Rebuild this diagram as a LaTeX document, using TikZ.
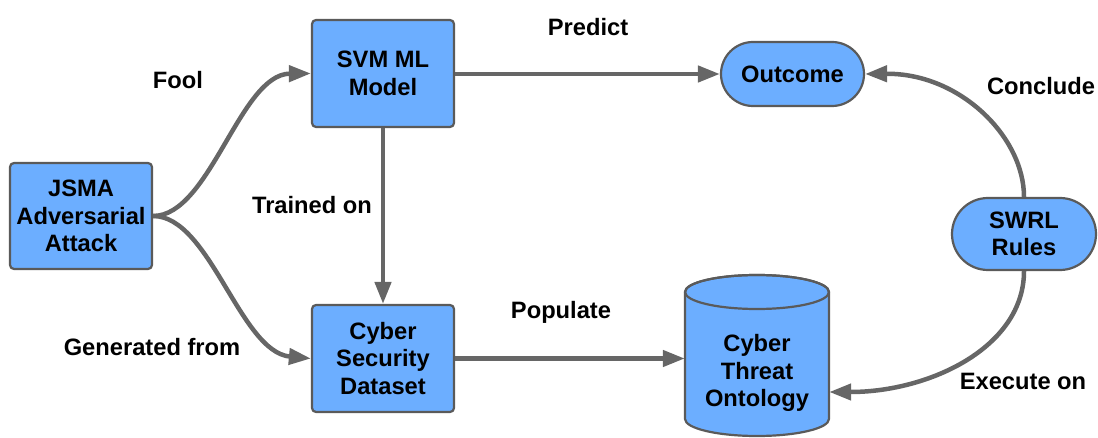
\documentclass[tikz,border=0pt]{standalone}
\usepackage{fontspec}
\setmainfont{Liberation Sans}
\usetikzlibrary{arrows.meta,calc}
\definecolor{boxfill}{RGB}{108,174,255}
\definecolor{boxline}{RGB}{90,90,90}
\definecolor{linkcol}{RGB}{102,102,102}
\tikzset{
  every node/.style={font=\fontsize{23.7}{27.5}\selectfont\bfseries, align=center, text=black},
  block/.style={draw=boxline, fill=boxfill, line width=2.2pt, rounded corners=4pt,
                minimum width=142pt, minimum height=107pt, inner sep=0pt},
  pill/.style={draw=boxline, fill=boxfill, line width=2.2pt, rounded corners=#1,
               inner sep=0pt},
  link/.style={draw=linkcol, line width=4.5pt,
               -{Triangle[length=22pt,width=16pt]}},
  lbl/.style={inner sep=0pt}
}
\begin{document}
\begin{tikzpicture}[x=1pt,y=1pt]
\useasboundingbox (0,0) rectangle (1098,437);

% boxes
\node[block, minimum height=106pt] (jsma) at (81,221) {JSMA\\Adversarial\\Attack};
\node[block] (svm) at (383,363.5) {SVM ML\\Model};
\node[block] (data) at (383,78.5) {Cyber\\Security\\Dataset};
\node[pill=32pt, minimum width=143pt, minimum height=64pt] (out) at (792.5,363) {Outcome};
\node[pill=36pt, minimum width=144pt, minimum height=72pt] (swrl) at (1024,203) {SWRL\\Rules};

% ontology store drawn as a cylinder
\path[draw=boxline, fill=boxfill, line width=2.2pt]
  (685,145) -- (685,18) arc[start angle=180, end angle=360, x radius=72pt, y radius=17pt]
  -- (829,145) arc[start angle=0, end angle=180, x radius=72pt, y radius=17pt] -- cycle;
\draw[boxline, line width=2.2pt] (757,145) ellipse[x radius=72pt, y radius=17pt];
\node[minimum width=144pt, minimum height=127pt, inner sep=0pt] (ont) at (757,81.5) {};
\node (ontxt) at (757,64) {Cyber\\Threat\\Ontology};
\coordinate (ontin) at ($(ont.east)+(0,-36.5)$);

% connectors
\draw[link] (jsma.east) .. controls (210,221) and (240,363) .. (svm.west);
\draw[link] (jsma.east) .. controls (210,221) and (240,85) .. (data.west);
\draw[link] (svm.south) -- (data.north);
\draw[link] (svm.east |- out.west) -- (out.west);
\draw[link] (data.east) -- (ont.west |- data.east);
\draw[link] (swrl.north) .. controls (1024,300) and (960,364) .. (out.east);
\draw[link] (swrl.south) .. controls (1024,90) and (930,45) .. (ontin);

% labels
\node[lbl] (lfool) at (178,357) {Fool};
\node[lbl] (lpred) at (588,410) {Predict};
\node[lbl] (lconc) at (1041,351) {Conclude};
\node[lbl] (ltrain) at (312,232) {Trained on};
\node[lbl] (lgen) at (152,90) {Generated from};
\node[lbl] (lpop) at (561,125) {Populate};
\node[lbl] (lexec) at (1023,56) {Execute on};
\end{tikzpicture}
\end{document}
